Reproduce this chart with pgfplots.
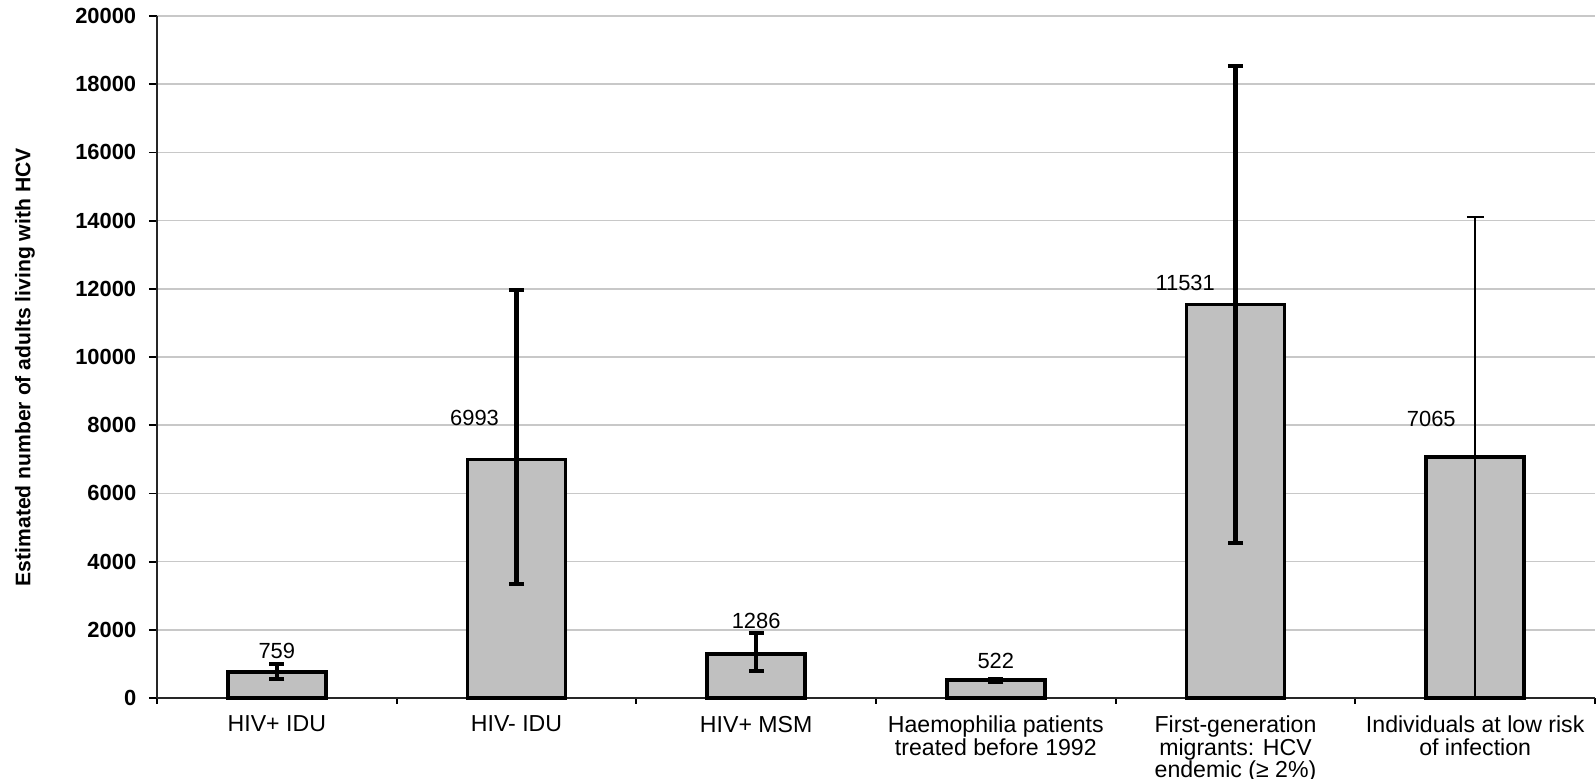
\documentclass[border=0pt]{standalone}
\usepackage{pgfplots}
\pgfplotsset{compat=1.18}
\usepackage{pgfplotstable}
\usepackage{fontspec}
\setmainfont{Liberation Sans}
\definecolor{barfill}{HTML}{C0C0C0}
\definecolor{gridc}{HTML}{C8C8C8}
\pgfplotstableread{
x y ep em
0 759 241 209
1 6993 4977 3658
2 1286 610 494
3 522 45 45
4 11531 6993 6986
}\mainbars
\pgfplotstableread{
x y ep em
5 7065 7035 7065
}\lowbar
\begin{document}
\begin{tikzpicture}
\begin{axis}[
  scale only axis,
  width=359.5bp, height=170.5bp,
  xmin=-0.5, xmax=5.5,
  ymin=0, ymax=20000,
  axis lines*=left,
  axis line style={-, line width=0.45bp, color=black!85},
  ybar,
  bar width=24.5bp,
  xtick={0,1,2,3,4,5},
  xticklabels={HIV+ IDU, HIV- IDU, HIV+ MSM, {Haemophilia patients\\treated before 1992}, {First-generation\\migrants: HCV\\endemic (≥ 2\%)}, {Individuals at low risk\\of infection}},
  minor xtick={-0.5,0.5,1.5,2.5,3.5,4.5,5.5},
  major x tick style={draw=none},
  minor tick length=1.4bp,
  major tick length=2bp,
  tick align=outside,
  tick style={line width=0.45bp, black},
  ytick={0,2000,4000,6000,8000,10000,12000,14000,16000,18000,20000},
  yticklabels={0,2000,4000,6000,8000,10000,12000,14000,16000,18000,20000},
  ymajorgrids,
  grid style={gridc, line width=0.4bp},
  yticklabel style={font=\bfseries\fontsize{5.5}{6}\selectfont, inner sep=0pt, xshift=-3bp},
  xticklabel style={font=\fontsize{5.8}{5.6}\selectfont, align=center, anchor=north, inner sep=0pt, yshift=-2.3bp},
  ylabel={Estimated number of adults living with HCV},
  ylabel style={font=\bfseries\fontsize{5.3}{6}\selectfont, at={(axis description cs:-0.0918,0.485)}, anchor=center},
  clip=false,
]
\addplot[bar shift=0pt, fill=barfill, draw=black, line width=0.85bp,
  error bars/.cd, y dir=both, y explicit,
  error bar style={line width=1.15bp, black},
  error mark options={rotate=90, mark size=1.9bp, line width=1.0bp, black}]
  table[x=x, y=y, y error plus=ep, y error minus=em] {\mainbars};
\addplot[bar shift=0pt, fill=barfill, draw=black, line width=0.85bp,
  error bars/.cd, y dir=both, y explicit,
  error bar style={line width=0.5bp, black},
  error mark options={rotate=90, mark size=2.1bp, line width=0.5bp, black}]
  table[x=x, y=y, y error plus=ep, y error minus=em] {\lowbar};
\begin{scope}[font=\fontsize{5.5}{6}\selectfont]
\node at (axis cs:0,1378) {759};
\node at (axis cs:0.825,8211) {6993};
\node at (axis cs:2,2258) {1286};
\node at (axis cs:3,1085) {522};
\node at (axis cs:3.79,12170) {11531};
\node at (axis cs:4.817,8181) {7065};
\end{scope}
\end{axis}
\pgfresetboundingbox
\path[use as bounding box] ([xshift=-39.25bp,yshift=-20.25bp]current axis.south west) rectangle ([xshift=0.25bp,yshift=4bp]current axis.north east);
\end{tikzpicture}
\end{document}
